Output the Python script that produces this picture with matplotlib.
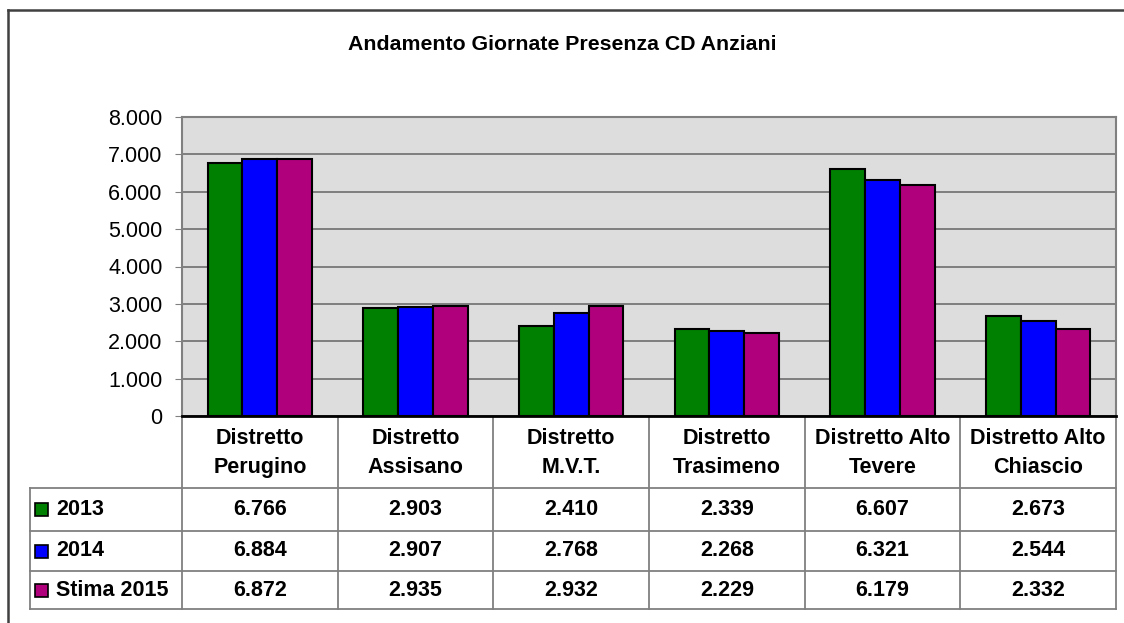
import matplotlib.pyplot as plt
from matplotlib.patches import Rectangle
import numpy as np

plt.rcParams['font.family'] = ['Liberation Sans', 'DejaVu Sans']

# data
categories = ['Distretto\nPerugino', 'Distretto\nAssisano', 'Distretto\nM.V.T.',
              'Distretto\nTrasimeno', 'Distretto Alto\nTevere', 'Distretto Alto\nChiascio']
series_names = ['2013', '2014', 'Stima 2015']
values_2013 = [6766, 2903, 2410, 2339, 6607, 2673]
values_2014 = [6884, 2907, 2768, 2268, 6321, 2544]
values_2015 = [6872, 2935, 2932, 2229, 6179, 2332]
y_ticks = [0, 1000, 2000, 3000, 4000, 5000, 6000, 7000, 8000]

series = [values_2013, values_2014, values_2015]
colors = ['#008000', '#0000FF', '#B0007C']


def fmt(v):
    # italian thousands separator
    return f'{v:,}'.replace(',', '.')


W, H = 1124, 623
FS = 15.5
fig = plt.figure(figsize=(W / 100, H / 100), dpi=100)

# plot area, in pixels
left, right, top, bottom = 182, 1116, 117, 416
ax = fig.add_axes([left / W, 1 - bottom / H, (right - left) / W, (bottom - top) / H])
ax.set_facecolor('#DDDDDD')

x = np.arange(len(categories))
bar_w = 0.223
for i, (vals, c) in enumerate(zip(series, colors)):
    ax.bar(x + (i - 1) * bar_w, vals, bar_w, color=c, edgecolor='black',
           linewidth=1.5, zorder=3, label=series_names[i])

ax.set_xlim(-0.5, len(categories) - 0.5)
ax.set_ylim(0, 8000)
ax.set_yticks(y_ticks)
ax.set_yticklabels([fmt(v) for v in y_ticks], fontsize=FS)
ax.set_xticks([])
ax.tick_params(axis='y', direction='out', length=5, color='#808080', pad=9)
ax.yaxis.grid(True, color='#6E6E6E', linewidth=1.2, zorder=1)
ax.set_axisbelow(True)
for s in ['left', 'top', 'right']:
    ax.spines[s].set_color('#808080')
    ax.spines[s].set_linewidth(1.5)
ax.spines['bottom'].set_color('black')
ax.spines['bottom'].set_linewidth(2)

# overlay in pixel coordinates for frame, title and data table
ov = fig.add_axes([0, 0, 1, 1], zorder=-1)
ov.set_xlim(0, W)
ov.set_ylim(H, 0)
ov.axis('off')

ov.plot([8, 8], [10, H + 5], color='#404040', lw=1.8)
ov.plot([8, W + 5], [10, 10], color='#404040', lw=1.8)

ov.text(W / 2, 45, 'Andamento Giornate Presenza CD Anziani', ha='center', va='center',
        fontsize=15.3, fontweight='bold')

colw = (right - left) / len(categories)
row_edges = [488, 531, 571, 609]
grid_c = '#808080'
for k in range(len(categories) + 1):
    ov.plot([left + k * colw] * 2, [bottom, row_edges[-1]], color=grid_c, lw=1.3)
ov.plot([30, 30], [row_edges[0], row_edges[-1]], color=grid_c, lw=1.3)
for y in row_edges:
    ov.plot([30, right], [y, y], color=grid_c, lw=1.3)

for k, cat in enumerate(categories):
    cx = left + (k + 0.5) * colw
    ov.text(cx, (bottom + row_edges[0]) / 2 + 1, cat, ha='center', va='center',
            fontsize=FS, fontweight='bold', linespacing=1.5)

for r, (name, vals, c) in enumerate(zip(series_names, series, colors)):
    cy = (row_edges[r] + row_edges[r + 1]) / 2
    ov.add_patch(Rectangle((35, cy - 6.5), 13, 13, facecolor=c, edgecolor='black', lw=1.2))
    ov.text(56, cy, name, ha='left', va='center', fontsize=FS, fontweight='bold')
    for k, v in enumerate(vals):
        ov.text(left + (k + 0.5) * colw, cy, fmt(v), ha='center', va='center',
                fontsize=FS, fontweight='bold')

fig.savefig('out.png', dpi=100)
